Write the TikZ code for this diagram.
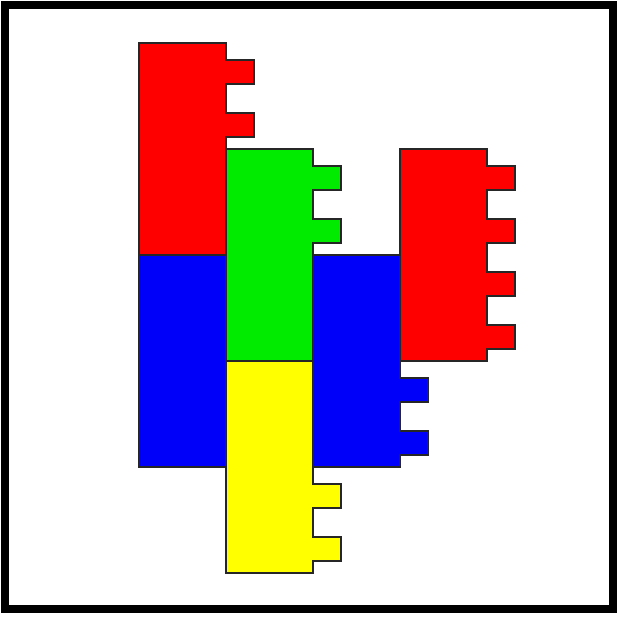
\documentclass[tikz,border=0pt]{standalone}
\usepackage{tikz}
\definecolor{brickR}{RGB}{255,0,0}
\definecolor{brickG}{RGB}{0,235,0}
\definecolor{brickB}{RGB}{0,0,250}
\definecolor{brickY}{RGB}{255,255,0}

\begin{document}
\begin{tikzpicture}[x=1pt, y=-1pt,
  brick/.pic={
    \path[pic actions] (0,0) -- (87,0)
      \foreach \t in {17,70,123,176} { -- (87,\t) -- (115,\t) -- (115,\t+24) -- (87,\t+24) }
      -- (87,212) -- (0,212) -- cycle;
  },
  piece/.style={draw=black!85, line width=1.2pt, line join=miter}]
  \useasboundingbox (0,0) rectangle (620,616);
  \draw[line width=8pt] (5,5) rectangle (613,609);
  % bricks, back to front
  \pic[piece, fill=brickR] at (139,43)  {brick};
  \pic[piece, fill=brickB] at (139,255) {brick};
  \pic[piece, fill=brickG] at (226,149) {brick};
  \pic[piece, fill=brickY] at (226,361) {brick};
  \pic[piece, fill=brickB] at (313,255) {brick};
  \pic[piece, fill=brickR] at (400,149) {brick};
\end{tikzpicture}
\end{document}
